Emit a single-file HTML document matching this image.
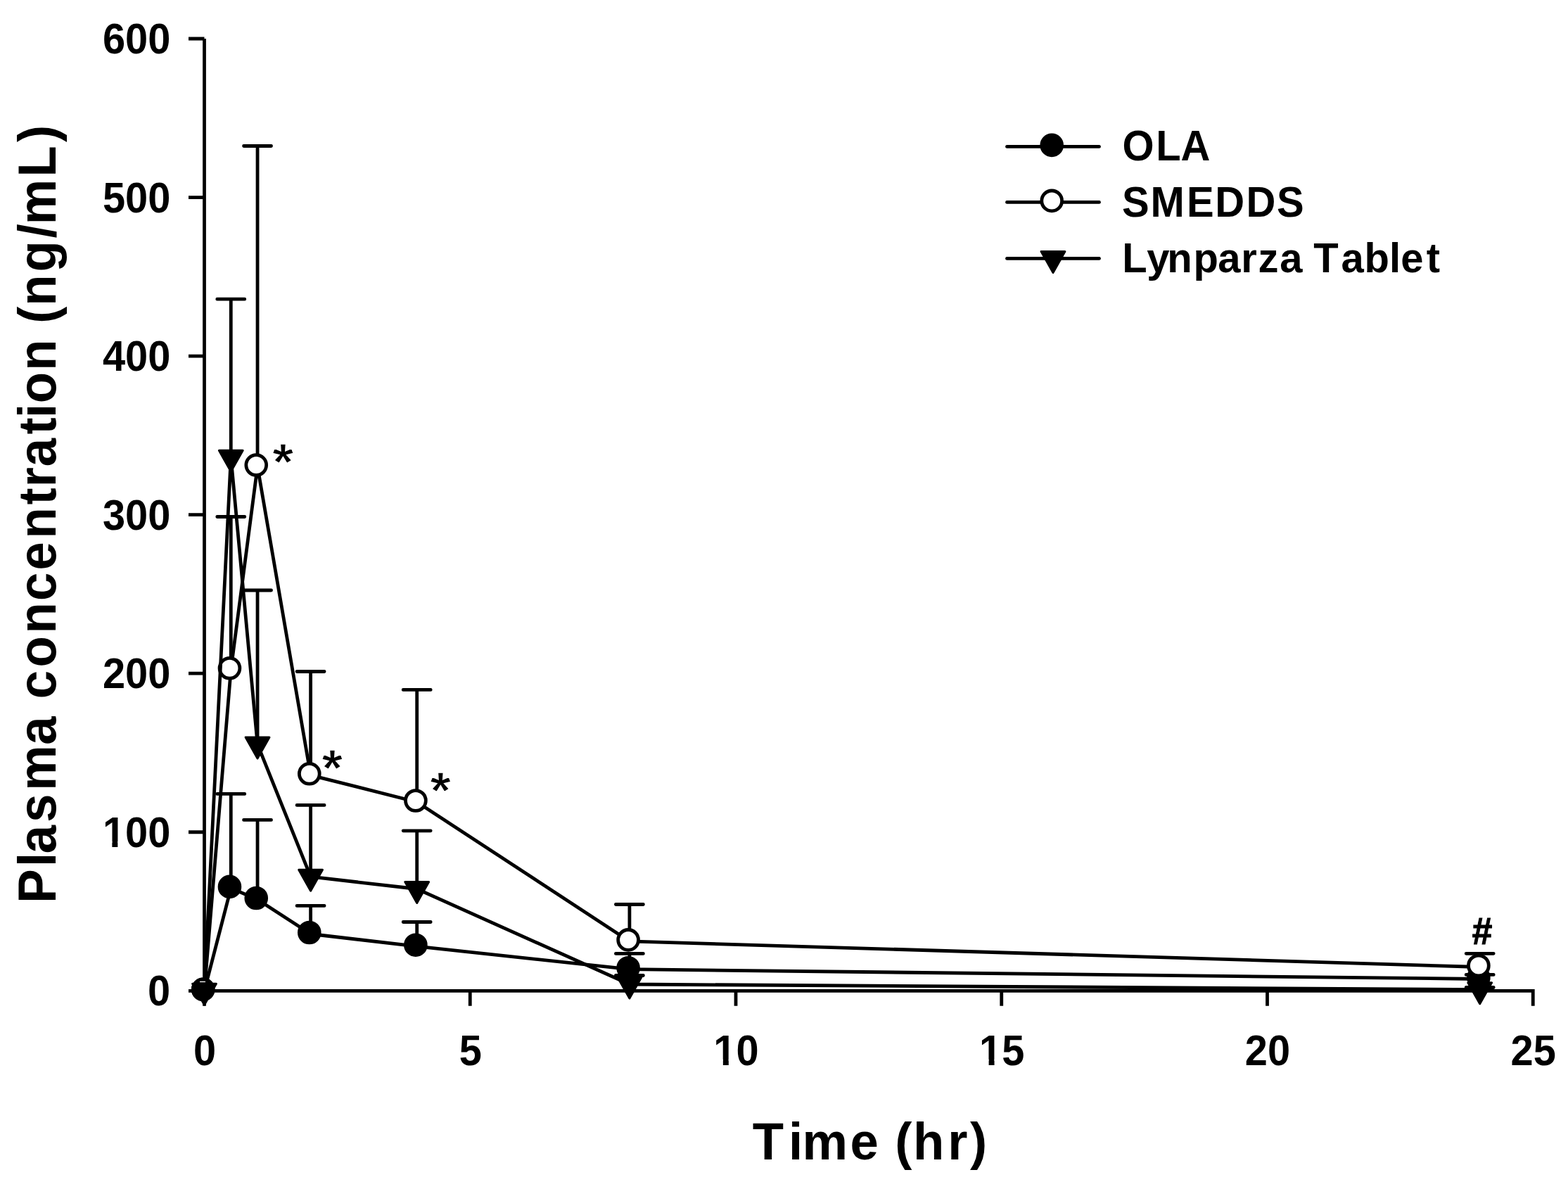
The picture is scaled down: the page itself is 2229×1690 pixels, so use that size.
<!DOCTYPE html>
<html><head><meta charset="utf-8"><title>Plasma concentration</title>
<style>html,body{margin:0;padding:0;background:#fff;width:2229px;height:1690px;overflow:hidden}svg{display:block}</style>
</head><body>
<svg width="2229" height="1690" viewBox="0 0 2229 1690">
<style>
.ln{fill:none;stroke:#000;stroke-width:4.8;stroke-linejoin:round;stroke-linecap:round}
.eb{fill:none;stroke:#000;stroke-width:4.8;stroke-linecap:round}
.ax{fill:none;stroke:#000;stroke-width:4.8;stroke-linecap:butt;stroke-linejoin:miter}
.fc{fill:#000;stroke:#000;stroke-width:4.8}
.oc{fill:#fff;stroke:#000;stroke-width:4.8}
.tri{fill:#000;stroke:#000;stroke-width:3;stroke-linejoin:round}
text{font-family:"Liberation Sans",Arial,sans-serif;font-weight:bold;fill:#000}
</style>
<rect width="2229" height="1690" fill="#fff"/>
<path d="M290.5 1408.3V55M290.5 1408.3H268M290.5 1182.75H268M290.5 957.2H268M290.5 731.65H268M290.5 506.1H268M290.5 280.55H268M290.5 55H268" class="ax"/>
<path d="M290.5 1408.3H2179.25V1429.8M290.5 1408.3V1429.8M668.25 1408.3V1429.8M1046 1408.3V1429.8M1423.75 1408.3V1429.8M1801.5 1408.3V1429.8" class="ax"/>
<polyline points="290.5,1408.3 328.27,1262.4 366.05,1278.5 441.6,1327.5 592.7,1345.2 894.9,1377.7 2103.7,1391.5" class="ln"/>
<path d="M328.27 1262.4V1128.4M308.77 1128.4H347.77" class="eb"/>
<path d="M366.05 1278.5V1165.4M346.55 1165.4H385.55" class="eb"/>
<path d="M441.6 1327.5V1287.4M422.1 1287.4H461.1" class="eb"/>
<path d="M592.7 1345.2V1310.5M573.2 1310.5H612.2" class="eb"/>
<path d="M894.9 1377.7V1355.4M875.4 1355.4H914.4" class="eb"/>
<path d="M2103.7 1391.5V1385.4M2084.2 1385.4H2123.2" class="eb"/>
<circle cx="288.7" cy="1406.3" r="14.4" class="fc"/>
<circle cx="326.47" cy="1260.4" r="14.4" class="fc"/>
<circle cx="364.25" cy="1276.5" r="14.4" class="fc"/>
<circle cx="439.8" cy="1325.5" r="14.4" class="fc"/>
<circle cx="590.9" cy="1343.2" r="14.4" class="fc"/>
<circle cx="893.1" cy="1375.7" r="14.4" class="fc"/>
<circle cx="2101.9" cy="1389.5" r="14.4" class="fc"/>
<polyline points="290.5,1408.3 328.27,951.8 366.05,663.1 441.6,1101.8 592.7,1140 894.9,1337.9 2103.7,1374.5" class="ln"/>
<path d="M328.27 951.8V734.5M308.77 734.5H347.77" class="eb"/>
<path d="M366.05 663.1V207.5M346.55 207.5H385.55" class="eb"/>
<path d="M441.6 1101.8V954.5M422.1 954.5H461.1" class="eb"/>
<path d="M592.7 1140V980.4M573.2 980.4H612.2" class="eb"/>
<path d="M894.9 1337.9V1285.5M875.4 1285.5H914.4" class="eb"/>
<path d="M2103.7 1374.5V1355.3M2084.2 1355.3H2123.2" class="eb"/>
<circle cx="288.7" cy="1406.3" r="14.4" class="fc"/>
<circle cx="326.47" cy="949.8" r="14.4" class="oc"/>
<circle cx="364.25" cy="661.1" r="14.4" class="oc"/>
<circle cx="439.8" cy="1099.8" r="14.4" class="oc"/>
<circle cx="590.9" cy="1138" r="14.4" class="oc"/>
<circle cx="893.1" cy="1335.9" r="14.4" class="oc"/>
<circle cx="2101.9" cy="1372.5" r="14.4" class="oc"/>
<polyline points="290.5,1408.3 328.27,650.2 366.05,1057.9 441.6,1246.2 592.7,1263.5 894.9,1399 2103.7,1406.7" class="ln"/>
<path d="M328.27 650.2V425.2M308.77 425.2H347.77" class="eb"/>
<path d="M366.05 1057.9V839M346.55 839H385.55" class="eb"/>
<path d="M441.6 1246.2V1144.4M422.1 1144.4H461.1" class="eb"/>
<path d="M592.7 1263.5V1180.8M573.2 1180.8H612.2" class="eb"/>
<path d="M894.9 1399V1386.5M875.4 1386.5H914.4" class="eb"/>
<path d="M2103.7 1406.7V1403.5M2084.2 1403.5H2123.2" class="eb"/>
<path d="M273.6 1398.3L307.4 1398.3L290.5 1428.3Z" class="tri"/>
<path d="M311.38 640.2L345.17 640.2L328.27 670.2Z" class="tri"/>
<path d="M349.15 1047.9L382.95 1047.9L366.05 1077.9Z" class="tri"/>
<path d="M424.7 1236.2L458.5 1236.2L441.6 1266.2Z" class="tri"/>
<path d="M575.8 1253.5L609.6 1253.5L592.7 1283.5Z" class="tri"/>
<path d="M878 1389L911.8 1389L894.9 1419Z" class="tri"/>
<path d="M2086.8 1396.7L2120.6 1396.7L2103.7 1426.7Z" class="tri"/>
<rect x="284" y="1394.8" width="8" height="1.3" fill="#fff"/>
<text transform="matrix(0.9962 0 0 1.0496 210.01 1429.26)" style="font-size:58px">0</text>
<g transform="matrix(0.9962 0 0 1.0496 145.91 1203.71)"><text style="font-size:58px">100</text><rect x="1.65" y="-7.42" width="11.88" height="8.92" fill="#fff"/><rect x="21.50" y="-7.42" width="11.15" height="8.92" fill="#fff"/></g>
<text transform="matrix(0.9962 0 0 1.0496 145.91 978.16)" style="font-size:58px">200</text>
<text transform="matrix(0.9962 0 0 1.0496 145.91 752.61)" style="font-size:58px">300</text>
<text transform="matrix(0.9962 0 0 1.0496 145.91 527.06)" style="font-size:58px">400</text>
<text transform="matrix(0.9962 0 0 1.0496 145.91 301.51)" style="font-size:58px">500</text>
<text transform="matrix(0.9962 0 0 1.0496 145.91 75.96)" style="font-size:58px">600</text>
<text transform="matrix(0.9962 0 0 1.0471 274.93 1513.51)" style="font-size:58px">0</text>
<text transform="matrix(0.9962 0 0 1.0471 652.68 1513.51)" style="font-size:58px">5</text>
<g transform="matrix(0.9962 0 0 1.0471 1014.37 1513.51)"><text style="font-size:58px">10</text><rect x="1.65" y="-7.42" width="11.88" height="8.92" fill="#fff"/><rect x="21.50" y="-7.42" width="11.15" height="8.92" fill="#fff"/></g>
<g transform="matrix(0.9962 0 0 1.0471 1392.12 1513.51)"><text style="font-size:58px">15</text><rect x="1.65" y="-7.42" width="11.88" height="8.92" fill="#fff"/><rect x="21.50" y="-7.42" width="11.15" height="8.92" fill="#fff"/></g>
<text transform="matrix(0.9962 0 0 1.0471 1769.87 1513.51)" style="font-size:58px">20</text>
<text transform="matrix(0.9962 0 0 1.0471 2147.62 1513.51)" style="font-size:58px">25</text>
<text transform="matrix(1.0000 0 0 1.0450 0 227.80)" x="1595.42 1643.29 1678.60" style="font-size:58px">OLA</text>
<text transform="matrix(1.0000 0 0 1.0551 0 308.10)" x="1594.90 1635.44 1686.95 1727.33 1771.43 1814.90" style="font-size:58px">SMEDDS</text>
<text transform="matrix(1.0000 0 0 1.0238 0 386.90)" x="1595.24 1630.20 1659.17 1696.46 1731.24 1764.29 1788.44 1819.24 1851.49 1867.17 1906.39 1939.51 1975.02 1991.33 2027.84" style="font-size:58px">Lynparza Tablet</text>
<text transform="matrix(0.9800 0 0 1.0093 0 1647.80)" x="1091.67 1143.84 1163.79 1233.27 1274.43 1298.17 1324.51 1374.79 1407.04" style="font-size:74px">Time (hr)</text>
<text transform="matrix(1.3303 0 0 1.2743 387.20 682.05)" style="font-size:58px;stroke:#fff;stroke-width:1.08px">*</text>
<text transform="matrix(1.3123 0 0 1.2651 457.40 1116.78)" style="font-size:58px;stroke:#fff;stroke-width:1.09px">*</text>
<text transform="matrix(1.3033 0 0 1.2651 611.60 1148.58)" style="font-size:58px;stroke:#fff;stroke-width:1.09px">*</text>
<text transform="matrix(0.8866 0 0 0.9340 2092.68 1342.35)" style="font-size:58px;stroke:#000;stroke-width:1.21px;stroke-linejoin:miter">#</text>
<text transform="matrix(0 -0.9800 1.0169 0 79.10 0)" x="-1309.92 -1257.18 -1238.07 -1192.66 -1146.77 -1080.26 -1039.11 -1013.59 -967.81 -918.87 -871.55 -826.93 -781.01 -732.22 -706.38 -676.69 -630.13 -606.11 -585.00 -537.54 -492.34 -469.23 -443.51 -394.35 -345.38 -325.75 -256.59 -206.08" style="font-size:74px">Plasma concentration (ng/mL)</text>

<path d="M1431.5 208.4H1562.5" class="ln"/>
<circle cx="1495.2" cy="206.4" r="14.4" class="fc"/>
<path d="M1431.5 287.4H1562.5" class="ln"/>
<circle cx="1495.2" cy="285.4" r="14.4" class="oc"/>
<path d="M1431.5 367.4H1562.5" class="ln"/>
<path d="M1480.1 357.4L1513.9 357.4L1497 387.4Z" class="tri"/>
</svg>
</body></html>
